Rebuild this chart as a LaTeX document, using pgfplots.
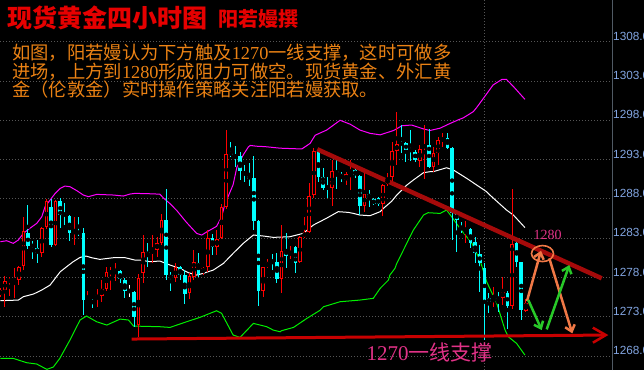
\documentclass[border=0pt]{standalone}
\usepackage{fontspec}
\setmainfont{Liberation Sans}
\newfontfamily\cjk{Noto Sans CJK SC}
\newfontfamily\serifnum{Liberation Serif}
\usepackage{pgfplots}
\pgfplotsset{compat=1.18}
\usepackage{pgfplotstable}
\usetikzlibrary{arrows.meta}

\definecolor{cR}{RGB}{255,0,0}
\definecolor{cC}{RGB}{0,255,255}
\definecolor{cM}{RGB}{255,0,255}
\definecolor{cG}{RGB}{0,240,0}
\definecolor{gridc}{RGB}{85,85,85}
\definecolor{tickc}{RGB}{130,165,225}
\definecolor{spinec}{RGB}{80,90,100}
\definecolor{titlered}{RGB}{230,0,0}
\definecolor{orangetxt}{RGB}{235,130,20}
\definecolor{pinkc}{RGB}{225,50,135}
\definecolor{trendc}{RGB}{165,10,10}
\definecolor{supc}{RGB}{200,0,0}
\definecolor{arrO}{RGB}{240,120,70}
\definecolor{arrG}{RGB}{40,200,40}

% candles: x open high low close
\pgfplotstableread{
x o h l c
0 1275.76 1276.6 1275.5 1276.40
1 1276.4 1278.18 1274.27 1277.54
2 1277.46 1278.01 1275.63 1277.67
3 1277.63 1279.20 1275.42 1277.75
4 1277.67 1279.49 1277.03 1279.37
5 1279.49 1285.73 1278.94 1283.91
9 1281.06 1284.46 1280.64 1284.25
10 1284.37 1287.94 1284.12 1287.77
12 1282.12 1287.85 1282.0 1287.72
16 1283.74 1285.73 1282.12 1283.82
19 1274.91 1276.31 1274.70 1275.0
21 1275.34 1276.56 1274.27 1275.76
22 1275.63 1277.67 1274.91 1276.48
23 1276.48 1279.37 1276.31 1278.64
24 1278.6 1279.37 1276.40 1278.73
25 1278.8 1279.79 1277.54 1278.9
30 1271.9 1278.5 1270.4 1277.9
31 1278.52 1283.4 1277.25 1281.27
33 1280.98 1283.40 1279.79 1281.57
34 1281.57 1283.18 1280.64 1282.42
35 1282.42 1286.07 1282.12 1285.31
38 1277.88 1279.79 1277.46 1279.28
41 1276.06 1278.52 1275.25 1278.18
42 1278.09 1281.49 1277.67 1279.92
44 1278.73 1279.37 1278.30 1279.15
45 1279.28 1284.03 1278.64 1283.06
47 1281.91 1284.03 1280.85 1282.85
48 1282.97 1287.34 1282.85 1286.92
49 1286.92 1296.76 1286.66 1293.71
57 1276.31 1279.37 1275.55 1279.28
58 1279.28 1280.30 1279.15 1279.92
61 1277.80 1284.67 1275.97 1281.36
63 1280.94 1282.04 1280.30 1281.19
65 1279.92 1283.31 1279.79 1283.18
66 1283.18 1285.73 1282.97 1283.74
67 1283.74 1289.97 1283.61 1288.36
68 1288.49 1294.51 1288.15 1294.09
72 1289.34 1292.94 1287.09 1291.58
75 1290.40 1291.46 1289.76 1291.16
76 1291.25 1292.94 1289.12 1291.67
79 1287.13 1291.33 1286.37 1288.57
83 1287.30 1289.97 1285.86 1289.76
84 1289.85 1291.33 1289.63 1290.61
85 1290.82 1295.28 1290.18 1294.09
86 1294.09 1299.10 1292.31 1294.94
91 1292.86 1294.85 1292.09 1294.30
92 1294.56 1297.40 1290.52 1294.85
94 1292.09 1294.64 1291.46 1293.88
95 1293.88 1295.91 1292.31 1295.49
96 1295.40 1296.42 1294.64 1295.70
101 1284.03 1285.22 1282.34 1284.16
107 1274.91 1276.82 1274.27 1275.34
109 1275.42 1278.09 1274.49 1276.18
111 1274.40 1289.25 1273.93 1282.21
114 1273.7 1275.3 1273.6 1274.7
}\upc

\pgfplotstableread{
x o h l c
6 1283.61 1287.22 1281.66 1282.0
7 1282.17 1282.67 1280.30 1281.91
8 1281.70 1282.76 1279.79 1281.15
11 1286.92 1288.06 1281.91 1282.12
13 1287.72 1288.06 1284.33 1285.94
14 1286.15 1287.43 1284.67 1285.81
15 1285.81 1285.94 1282.63 1283.61
17 1283.82 1285.65 1283.31 1283.65
18 1283.69 1284.25 1273.21 1275.12
20 1275.55 1275.67 1274.06 1275.42
26 1278.81 1278.94 1277.24 1277.75
27 1277.67 1277.97 1275.42 1276.31
29 1276.2 1276.25 1271.7 1273.0
32 1281.19 1282.34 1279.37 1280.89
36 1285.31 1289.21 1277.67 1278.30
37 1278.30 1278.73 1276.31 1277.88
39 1279.37 1279.49 1277.67 1278.30
40 1278.30 1278.94 1274.57 1275.89
43 1279.92 1281.06 1278.09 1278.52
46 1283.06 1283.52 1280.85 1281.91
50 1293.80 1295.19 1293.37 1293.7
51 1293.45 1294.72 1292.09 1293.37
52 1293.45 1294.0 1290.40 1291.54
53 1291.46 1292.31 1290.18 1291.03
54 1290.91 1292.52 1289.63 1290.57
55 1290.65 1293.45 1284.03 1285.22
56 1285.22 1285.31 1274.40 1276.31
59 1280.09 1280.98 1278.94 1280.0
60 1279.92 1281.15 1277.24 1277.80
62 1281.49 1283.61 1279.15 1280.77
64 1281.91 1281.99 1278.64 1279.79
69 1294.09 1294.22 1290.18 1290.74
70 1290.82 1291.88 1289.12 1289.34
71 1289.63 1290.74 1288.15 1289.25
73 1291.58 1292.94 1289.25 1291.25
74 1291.16 1291.37 1290.18 1290.69
77 1291.67 1291.88 1290.61 1291.03
78 1290.91 1291.03 1285.94 1287.13
80 1288.61 1289.12 1287.0 1288.15
81 1287.94 1288.06 1287.21 1287.30
82 1288.06 1288.27 1287.09 1287.30
87 1295.06 1297.40 1293.79 1294.98
88 1295.06 1295.28 1292.73 1294.22
89 1294.34 1296.76 1292.82 1294.09
90 1294.0 1294.22 1292.73 1292.94
93 1294.85 1296.85 1291.88 1292.09
97 1295.79 1296.42 1294.30 1294.51
98 1294.51 1294.64 1282.76 1286.15
99 1286.15 1286.15 1281.27 1285.31
100 1284.46 1285.09 1283.61 1284.03
102 1284.12 1284.33 1281.70 1282.34
103 1282.55 1283.10 1279.79 1281.06
104 1281.06 1282.12 1276.18 1279.79
105 1279.15 1279.79 1270.03 1274.70
106 1275.34 1275.97 1273.42 1274.91
108 1275.42 1276.18 1273.64 1275.25
110 1276.06 1276.31 1271.4 1274.40
112 1282.42 1282.76 1279.37 1280.0
113 1280.0 1280.0 1272.58 1273.85
}\dnc

\pgfplotstableread{
x o h l c
28 1276.3 1277.0 1275.55 1276.3
}\whc

% Bollinger bands
\pgfplotstableread{
x y
0 1282.55
1.4 1282.67
2.8 1282.34
3.9 1282.76
5.0 1283.61
6.4 1284.25
7.9 1284.88
9.0 1285.73
9.7 1287.0
10.8 1287.85
11.9 1288.70
13.0 1289.34
14.0 1289.63
15.1 1289.55
16.6 1289.04
18.0 1288.49
19.1 1288.28
20.9 1288.57
24.5 1288.49
26.7 1288.36
28.1 1288.61
29.2 1288.70
32.5 1288.65
34.6 1288.6
35.4 1288.1
36.8 1287.4
38.3 1286.5
40.4 1285.0
42.6 1283.6
43.7 1283.4
44.8 1283.8
46.9 1284.5
48.0 1285.7
48.7 1287.3
50.5 1289.8
51.3 1292.0
52.7 1293.6
53.8 1294.6
54.2 1294.8
55.6 1294.7
57.4 1294.65
60.7 1294.45
65.4 1294.35
67.2 1295.06
68.3 1296.1
70.8 1296.76
73.7 1298.0
75.9 1297.5
78.0 1296.76
80.2 1296.34
82.4 1296.15
85.3 1296.7
87.1 1297.3
89.2 1297.4
91.8 1296.9
93.2 1296.7
95.4 1297.0
97.2 1297.5
99.5 1298.1
100.4 1298.3
102.6 1299.1
103.3 1299.6
104.8 1300.8
106.9 1302.5
108.8 1303.2
109.8 1303.2
111.3 1302.3
113.8 1300.67
}\bbup

\pgfplotstableread{
x y
0 1275.04
3.9 1275.12
5.0 1275.55
7.2 1275.89
9.0 1276.40
10.8 1277.03
11.9 1277.88
13.0 1278.73
14.4 1279.37
15.8 1280.0
17.3 1280.55
18.6 1280.72
19.8 1280.51
21.6 1280.30
24.5 1280.51
27.1 1280.51
29.2 1280.21
30.3 1280.21
32.5 1280.0
34.6 1280.09
36.8 1279.58
39.0 1279.15
40.8 1278.60
42.6 1278.30
44.0 1278.52
46.2 1278.94
48.4 1279.79
50.5 1281.06
52.7 1282.34
54.9 1283.40
57.1 1283.27
59.2 1283.10
62.8 1283.18
65.7 1283.61
67.9 1284.67
69.3 1285.09
70.8 1285.55
73.3 1286.37
75.5 1286.28
76.6 1286.15
78.0 1285.94
80.2 1285.86
82.4 1286.37
83.1 1286.79
84.9 1287.70
86.0 1288.49
88.2 1289.76
89.6 1290.40
91.8 1291.33
93.2 1291.46
93.9 1291.46
96.8 1291.96
98.3 1291.67
101.2 1290.6
105.5 1288.91
106.2 1288.49
109.8 1286.58
111.3 1285.94
113.8 1284.35
}\bbmid

\pgfplotstableread{
x y
0 1267.70
2.8 1267.70
5.7 1267.15
7.9 1266.98
10.1 1266.30
11.5 1266.60
12.9 1267.70
15.1 1270.03
17.3 1272.58
18.7 1273.09
20.9 1272.36
23.1 1271.94
26.0 1272.70
27.8 1272.58
28.9 1271.81
34.6 1271.73
36.8 1271.64
40.4 1272.36
43.3 1272.92
46.9 1273.76
48.0 1273.43
50.5 1270.67
52.0 1270.37
54.9 1272.15
57.8 1271.73
59.2 1271.30
60.7 1271.09
61.0 1271.22
63.6 1271.64
66.5 1272.79
69.3 1273.80
70.1 1274.27
73.7 1274.91
78.0 1275.12
80.9 1275.34
82.4 1276.61
84.2 1277.67
84.5 1278.30
85.6 1279.15
86.0 1279.79
87.8 1281.91
89.6 1284.03
91.8 1285.94
92.8 1286.24
95.4 1286.15
96.8 1286.58
97.9 1285.73
99.7 1284.25
102.3 1282.34
104.05 1280.21
105.5 1277.46
107.7 1274.70
108.8 1272.6
109.5 1271.30
110.2 1270.45
112.0 1269.60
113.8 1268.12
}\bblow

\begin{document}
\begin{tikzpicture}[x=1pt,y=1pt]
\useasboundingbox (0,0) rectangle (644,370);
\fill[black] (0,0) rectangle (644,370);
\begin{scope}
\clip (0,0) rectangle (644,370);
\begin{axis}[
  at={(0,0)}, anchor=south west,
  scale only axis, width=612pt, height=370pt,
  xmin=-0.07, xmax=132.69, ymin=1266.22, ymax=1313.31,
  axis line style={draw=none},
  tick style={draw=none},
  xtick={105}, xticklabels={}, xmajorgrids,
  ytick={1268,1273,...,1308}, ymajorgrids,
  grid style={color=gridc, dash pattern=on 1pt off 2pt, line width=0.8pt},
  yticklabel pos=right,
  /pgf/number format/assume math mode=true,
  /pgf/number format/1000 sep={},
  yticklabel={\pgfmathprintnumber[fixed,fixed zerofill,precision=1,1000 sep={}]{\tick}},
  yticklabel style={font=\fontsize{11.8}{13}\selectfont, text=tickc, anchor=west, yshift=5.5pt, inner sep=1pt},
]
% bands
\addplot[cM, line width=1pt, mark=none] table[x=x,y=y] {\bbup};
\addplot[white, line width=1pt, mark=none] table[x=x,y=y] {\bbmid};
\addplot[cG, line width=1pt, mark=none] table[x=x,y=y] {\bblow};

% up candles: wick, hollow body
\addplot[only marks, mark=none, forget plot,
  error bars/.cd, y dir=both, y explicit, error mark=none,
  error bar style={draw=cR, line width=1pt}]
  table[x=x, y expr={(\thisrow{h}+\thisrow{l})/2}, y error expr={(\thisrow{h}-\thisrow{l})/2}] {\upc};
\addplot[only marks, mark=none, forget plot,
  error bars/.cd, y dir=both, y explicit, error mark=none,
  error bar style={draw=cR, line width=3.6pt}]
  table[x=x, y expr={(\thisrow{o}+\thisrow{c})/2}, y error expr={max(abs(\thisrow{c}-\thisrow{o})/2,0.07)}] {\upc};
\addplot[only marks, mark=none, forget plot,
  error bars/.cd, y dir=both, y explicit, error mark=none,
  error bar style={draw=black, line width=1.6pt}]
  table[x=x, y expr={(\thisrow{o}+\thisrow{c})/2}, y error expr={max(abs(\thisrow{c}-\thisrow{o})/2-0.127,0)}] {\upc};

% down candles
\addplot[only marks, mark=none, forget plot,
  error bars/.cd, y dir=both, y explicit, error mark=none,
  error bar style={draw=cC, line width=1pt}]
  table[x=x, y expr={(\thisrow{h}+\thisrow{l})/2}, y error expr={(\thisrow{h}-\thisrow{l})/2}] {\dnc};
\addplot[only marks, mark=none, forget plot,
  error bars/.cd, y dir=both, y explicit, error mark=none,
  error bar style={draw=cC, line width=3.6pt}]
  table[x=x, y expr={(\thisrow{o}+\thisrow{c})/2}, y error expr={max(abs(\thisrow{c}-\thisrow{o})/2,0.07)}] {\dnc};

% doji (white)
\addplot[only marks, mark=none, forget plot,
  error bars/.cd, y dir=both, y explicit, error mark=none,
  error bar style={draw=white, line width=1pt}]
  table[x=x, y expr={(\thisrow{h}+\thisrow{l})/2}, y error expr={(\thisrow{h}-\thisrow{l})/2}] {\whc};
\addplot[only marks, mark=none, forget plot,
  error bars/.cd, y dir=both, y explicit, error mark=none,
  error bar style={draw=white, line width=3.6pt}]
  table[x=x, y expr={(\thisrow{o}+\thisrow{c})/2}, y error expr={0.07}] {\whc};

% trend line and support line
\addplot[trendc, line width=4.5pt, mark=none] coordinates {(68.76,1294.31) (130.45,1277.89)};
\addplot[supc, line width=3pt, mark=none, -{Straight Barb[length=13pt,width=15pt,line width=2.5pt]}] coordinates {(28.5,1270.16) (131.9,1270.67)};

% scenario arrows
\draw[arrO, line width=2.5pt, -{Straight Barb[length=6pt,width=10pt]}] (axis cs:114.25,1275.0) -- (axis cs:117.29,1281.4);
\draw[arrO, line width=2.5pt, -{Straight Barb[length=6pt,width=10pt]}] (axis cs:119.09,1280.43) -- (axis cs:124.07,1270.88);
\draw[arrG, line width=2.5pt, -{Straight Barb[length=6pt,width=10pt]}] (axis cs:114.53,1275.13) -- (axis cs:117.44,1271.31);
\draw[arrG, line width=2.5pt, -{Straight Barb[length=6pt,width=10pt]}] (axis cs:118.52,1271.39) -- (axis cs:123.43,1279.58);
\draw[arrO, line width=1.6pt] (axis cs:117.61,1281.04) ellipse [x radius=11pt, y radius=8pt];
\end{axis}
\end{scope}
\draw[spinec, line width=1pt] (612.5,0) -- (612.5,370);

% texts
\node[anchor=west, inner sep=0, text=titlered] at (7,352) {\cjk\bfseries\fontsize{25}{25}\selectfont 现货黄金四小时图};
\node[anchor=west, inner sep=0, text=titlered] at (218,351) {\cjk\bfseries\fontsize{20}{20}\selectfont 阳若嫚撰};
\node[anchor=west, inner sep=0, text=orangetxt] at (12,317) {\cjk\fontsize{18.3}{18.3}\selectfont 如图，阳若嫚认为下方触及{\serifnum 1270}一线支撑，这时可做多};
\node[anchor=west, inner sep=0, text=orangetxt] at (12,298.5) {\cjk\fontsize{18.3}{18.3}\selectfont 进场，上方到{\serifnum 1280}形成阻力可做空。现货黄金、外汇黄};
\node[anchor=west, inner sep=0, text=orangetxt] at (12,280) {\cjk\fontsize{18.3}{18.3}\selectfont 金（伦敦金）实时操作策略关注阳若嫚获取。};
\node[inner sep=0, text=pinkc] at (547.5,135) {\serifnum\fontsize{14}{14}\selectfont 1280};
\node[inner sep=0, text=pinkc] at (429.5,17.5) {\fontsize{21}{21}\selectfont{\serifnum 1270}{\cjk 一线支撑}};
\end{tikzpicture}
\end{document}
